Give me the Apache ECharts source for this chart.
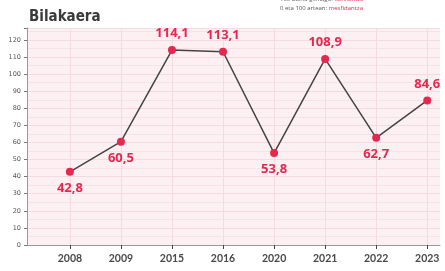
<!DOCTYPE html>
<html>
<head>
<meta charset="utf-8">
<script src="https://cdn.jsdelivr.net/npm/echarts@6/dist/echarts.min.js"></script>
<style>
  html,body{margin:0;padding:0;background:#fff;}
  #chart{width:445px;height:271px;}
</style>
</head>
<body>
<div id="chart"></div>
<script>
// urteak eta balioak
const years = ['2008', '2009', '2015', '2016', '2020', '2021', '2022', '2023'];
const values = [42.8, 60.5, 114.1, 113.1, 53.8, 108.9, 62.7, 84.6];
const yTicks = [0, 10, 20, 30, 40, 50, 60, 70, 80, 90, 100, 110, 120];

const red = '#e5284f';
const chart = echarts.init(document.getElementById('chart'), null, {renderer: 'canvas'});

const points = values.map(function (v, i) {
  return {
    value: [i, v],
    label: {position: v > 70 ? 'top' : 'bottom'}
  };
});

chart.setOption({
  backgroundColor: '#fff',
  animation: false,
  title: {
    text: 'Bilakaera',
    left: 24,
    top: 5,
    textStyle: {
      fontFamily: 'DejaVu Sans Condensed',
      fontWeight: 'bold',
      fontSize: 15,
      color: '#3a3a3a'
    }
  },
  graphic: [{
    type: 'text',
    left: 280,
    top: 5,
    style: {
      text: '0 eta 100 artean: {r|mesfidantza}',
      fontFamily: 'Open Sans',
      fontSize: 6,
      fill: '#555',
      rich: {r: {fill: red, fontSize: 6, fontFamily: 'Open Sans'}}
    }
  }, {
    type: 'text',
    left: 280,
    top: -4,
    style: {
      text: '100 baino gehiago: {r|konfiantza}',
      fontFamily: 'Open Sans',
      fontSize: 6,
      fill: '#555',
      rich: {r: {fill: red, fontSize: 6, fontFamily: 'Open Sans'}}
    }
  }],
  grid: {
    left: 27,
    right: 5,
    top: 28,
    bottom: 26,
    show: true,
    backgroundColor: '#fdf0f2',
    borderWidth: 0
  },
  xAxis: {
    type: 'value',
    min: -0.84,
    max: 7.25,
    splitNumber: 8,
    axisLine: {show: true, onZero: false, lineStyle: {color: '#999', width: 1}},
    axisTick: {show: true, length: 4, lineStyle: {color: '#444'}, customValues: years.map(function (y, i) { return i; })},
    axisLabel: {
      customValues: years.map(function (y, i) { return i; }),
      formatter: function (v) { return years[Math.round(v)] || ''; },
      fontFamily: 'Lato',
      fontSize: 10.5,
      fontWeight: 'bold',
      color: '#4a4a4a',
      margin: 8
    },
    splitLine: {show: true, lineStyle: {color: '#f2dce1', width: 1}}
  },
  yAxis: {
    type: 'value',
    min: 0,
    max: 127,
    interval: 10,
    axisLine: {show: true, onZero: false, lineStyle: {color: '#999', width: 1}},
    axisTick: {show: true, length: 3, lineStyle: {color: '#777'}},
    axisLabel: {
      formatter: function (v) { return yTicks.indexOf(v) >= 0 ? String(v) : ''; },
      fontFamily: 'DejaVu Sans',
      fontSize: 6.5,
      color: '#555',
      margin: 6
    },
    splitLine: {show: true, lineStyle: {color: '#f2dce1', width: 1}},
    minorTick: {show: false, splitNumber: 2},
    minorSplitLine: {show: true, lineStyle: {color: '#f5e3e7', width: 1}}
  },
  series: [{
    type: 'line',
    data: points,
    symbol: 'circle',
    symbolSize: 8,
    itemStyle: {color: red},
    lineStyle: {color: '#444', width: 1.5},
    label: {
      show: true,
      distance: 6,
      formatter: function (p) { return p.value[1].toFixed(1).replace('.', ','); },
      fontFamily: 'Open Sans',
      fontWeight: 'bold',
      fontSize: 13,
      color: red
    },
    z: 5
  }]
});
</script>
</body>
</html>
